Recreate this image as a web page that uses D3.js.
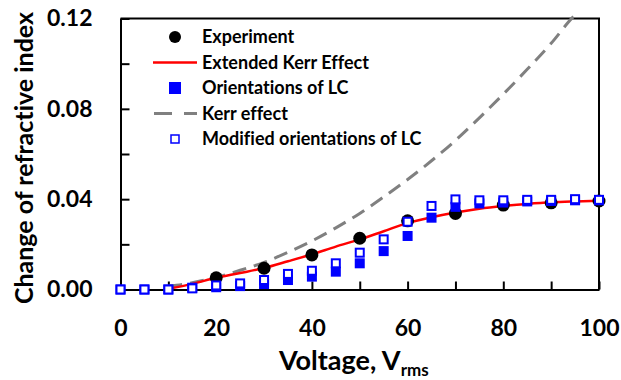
<!DOCTYPE html>
<html>
<head>
<meta charset="utf-8">
<script src="https://d3js.org/d3.v7.min.js"></script>
<style>
  body { margin: 0; background: #fff; }
  svg text { font-family: Lato, "Open Sans", sans-serif; font-weight: 700; fill: #000; font-variant-ligatures: none; }
  .axis path, .axis line { stroke: #000; stroke-width: 2; }
</style>
</head>
<body>
<div id="chart"></div>
<script>
// data
var expV = [20, 30, 40, 50, 60, 70, 80, 90, 100];
var expDn = [0.0052, 0.0094, 0.0153, 0.0227, 0.0304, 0.0337, 0.0374, 0.0384, 0.0392];

var lcV = [0, 5, 10, 15, 20, 25, 30, 35, 40, 45, 50, 55, 60, 65, 70, 75, 80, 85, 90, 95, 100];
var lcDn = [0, 0, 0, 0.0008, 0.001, 0.0015, 0.0024, 0.0042, 0.0057, 0.0079, 0.0116, 0.017, 0.0237, 0.0318, 0.0366, 0.0381, 0.0385, 0.039, 0.0392, 0.0395, 0.0395];
var modDn = [0, 0, 0, 0.0005, 0.0018, 0.0027, 0.0042, 0.0069, 0.0083, 0.0116, 0.0163, 0.0222, 0.030, 0.037, 0.0399, 0.0395, 0.0395, 0.0397, 0.0397, 0.040, 0.0397];

var extV = [10, 15, 20, 25, 30, 35, 40, 45, 50, 55, 60, 65, 70, 75, 80, 85, 90, 95, 100];
var extDn = [0.0003, 0.0025, 0.0052, 0.0073, 0.0095, 0.0125, 0.0156, 0.019, 0.0222, 0.0258, 0.0294, 0.032, 0.0341, 0.0358, 0.037, 0.0379, 0.0386, 0.039, 0.0393];

var kerrV = [10, 15, 20, 25, 30, 35, 40, 45, 50, 55, 60, 65, 70, 75, 80, 85, 90, 95, 95.7];
var kerrDn = [0.0014, 0.003, 0.0054, 0.0085, 0.012, 0.0165, 0.0215, 0.0273, 0.0337, 0.041, 0.0487, 0.057, 0.066, 0.076, 0.0865, 0.0975, 0.109, 0.1215, 0.1228];

var xTicks = [0, 10, 20, 30, 40, 50, 60, 70, 80, 90, 100];
var xTickLabels = ["0", "20", "40", "60", "80", "100"];
var yTicks = [0, 0.02, 0.04, 0.06, 0.08, 0.10, 0.12];
var yTickLabels = ["0.00", "0.04", "0.08", "0.12"];

var legendNames = ["Experiment", "Extended Kerr Effect", "Orientations of LC", "Kerr effect", "Modified orientations of LC"];

var width = 621, height = 380,
    margin = {top: 18.5, right: 22, bottom: 90.5, left: 120.5};
var w = width - margin.left - margin.right,
    h = height - margin.top - margin.bottom;

var svg = d3.select("#chart").append("svg")
    .attr("width", width)
    .attr("height", height);
var g = svg.append("g")
    .attr("transform", `translate(${margin.left},${margin.top})`);

var x = d3.scaleLinear().domain([0, 100]).range([0, w]);
var y = d3.scaleLinear().domain([0, 0.12]).range([h, 0]);

// frame (top and right)
g.append("path")
  .attr("d", `M0,0H${w}V${h}`)
  .attr("fill", "none").attr("stroke", "#000").attr("stroke-width", 2);

var xAxis = d3.axisBottom(x).tickValues(xTicks).tickSizeInner(-8).tickSizeOuter(0).tickPadding(30)
    .tickFormat(d => xTickLabels.indexOf(String(d)) >= 0 ? String(d) : "");
var yAxis = d3.axisLeft(y).tickValues(yTicks).tickSizeInner(-9).tickSizeOuter(0).tickPadding(28)
    .tickFormat(d => { var s = d3.format(".2f")(d); return yTickLabels.indexOf(s) >= 0 ? s : ""; });

g.append("g").attr("class", "x axis").attr("transform", `translate(0,${h})`).call(xAxis)
  .selectAll("text").style("font-size", "23px");
g.append("g").attr("class", "y axis").call(yAxis)
  .selectAll("text").style("font-size", "23px");

// axis titles
svg.append("text")
  .attr("transform", `translate(33,${margin.top + h / 2 + 4}) rotate(-90)`)
  .attr("text-anchor", "middle")
  .style("font-size", "25px")
  .text("Change of refractive index");

var xt = svg.append("text")
  .attr("x", 279)
  .attr("y", 370)
  .style("font-size", "27px");
xt.append("tspan").text("Voltage, V");
xt.append("tspan").attr("dy", 6).style("font-size", "17px").text("rms");

var line = d3.line().x(d => x(d[0])).y(d => y(d[1])).curve(d3.curveMonotoneX);

// Kerr effect (dashed)
g.append("path")
  .datum(d3.zip(kerrV, kerrDn))
  .attr("d", line)
  .attr("fill", "none").attr("stroke", "#808080").attr("stroke-width", 3)
  .attr("stroke-dasharray", "14,8");

// Extended Kerr effect
g.append("path")
  .datum(d3.zip(extV, extDn))
  .attr("d", line)
  .attr("fill", "none").attr("stroke", "#ff0000").attr("stroke-width", 2.5);

// experiment
g.selectAll(".exp")
  .data(d3.zip(expV, expDn))
  .enter().append("circle")
  .attr("class", "exp")
  .attr("cx", d => x(d[0])).attr("cy", d => y(d[1])).attr("r", 6.5)
  .attr("fill", "#000");

// orientations of LC
var sq = 10;
g.selectAll(".lc")
  .data(d3.zip(lcV, lcDn))
  .enter().append("rect")
  .attr("class", "lc")
  .attr("x", d => x(d[0]) - sq / 2).attr("y", d => y(d[1]) - sq / 2)
  .attr("width", sq).attr("height", sq)
  .attr("fill", "#0000ff");

// modified orientations of LC
g.selectAll(".mod")
  .data(d3.zip(lcV, modDn))
  .enter().append("rect")
  .attr("class", "mod")
  .attr("x", d => x(d[0]) - (sq - 2) / 2).attr("y", d => y(d[1]) - (sq - 2) / 2)
  .attr("width", sq - 2).attr("height", sq - 2)
  .attr("fill", "#fff").attr("stroke", "#0000ff").attr("stroke-width", 2);

// legend
var lg = svg.append("g").attr("transform", "translate(175,37)");
var rowH = 25.5;
legendNames.forEach(function(name, i) {
  var row = lg.append("g").attr("transform", `translate(0,${i * rowH})`);
  if (i === 0) row.append("circle").attr("r", 6).attr("fill", "#000");
  if (i === 1) row.append("line").attr("x1", -22).attr("x2", 22).attr("stroke", "#ff0000").attr("stroke-width", 2.5);
  if (i === 2) row.append("rect").attr("x", -6).attr("y", -6).attr("width", 12).attr("height", 12).attr("fill", "#0000ff");
  if (i === 3) row.append("line").attr("x1", -21).attr("x2", 22).attr("stroke", "#808080").attr("stroke-width", 3).attr("stroke-dasharray", "18,12");
  if (i === 4) row.append("rect").attr("x", -4).attr("y", -4).attr("width", 8).attr("height", 8).attr("fill", "#fff").attr("stroke", "#0000ff").attr("stroke-width", 1.5);
  row.append("text").attr("x", 27).attr("dy", "0.36em").style("font-size", "18px").text(name);
});
</script>
</body>
</html>
